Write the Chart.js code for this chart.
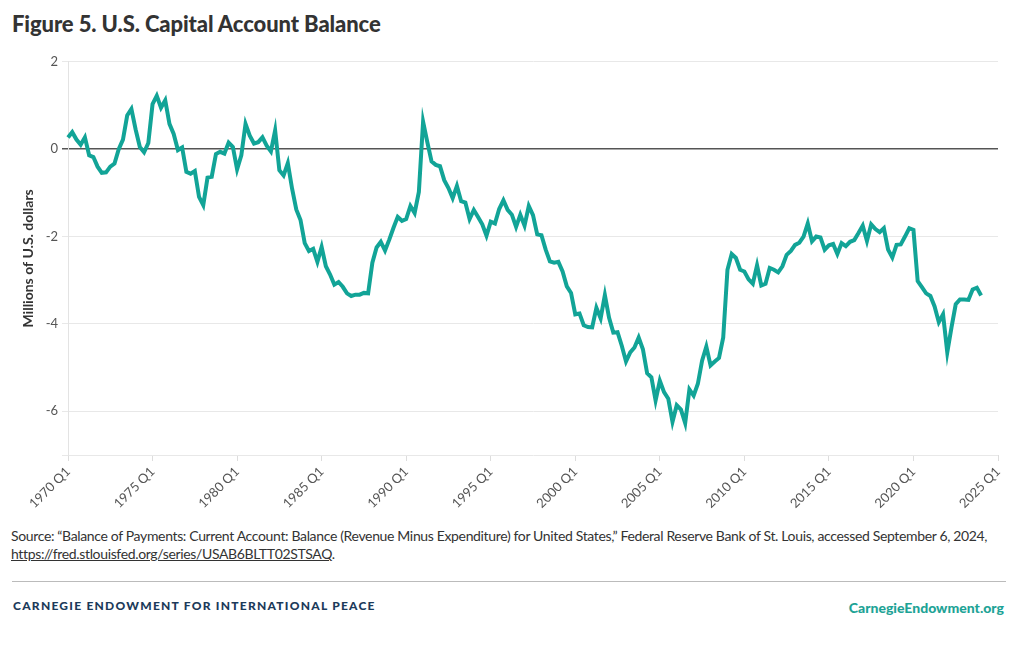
<!DOCTYPE html>
<html>
<head>
<meta charset="utf-8">
<script src="https://cdn.jsdelivr.net/npm/chart.js@4/dist/chart.umd.min.js"></script>
<style>
  body { margin: 0; background: #fff; font-family: 'Lato', sans-serif; color: #333; }
  #page { position: relative; width: 1020px; height: 650px; overflow: hidden; }
  h1 { position: absolute; left: 12px; top: 10px; margin: 0; font-size: 22px; font-weight: 900; color: #333; letter-spacing: -0.1px; }
  #wrap { position: absolute; left: 0; top: 50px; width: 1020px; height: 470px; }
  #source { position: absolute; left: 11px; top: 527px; width: 1005px; font-size: 14px; line-height: 18px; color: #333; letter-spacing: -0.35px; }
  #source a { color: #333; }
  #rule { position: absolute; left: 12px; top: 581px; width: 994px; height: 1px; background: #bbb; }
  #brand { position: absolute; left: 13px; top: 598px; font-size: 12px; font-weight: 900; letter-spacing: 1.25px; color: #1c3a5a; }
  #site { position: absolute; right: 16px; top: 599px; font-size: 14px; font-weight: 900; color: #1ea396; }
</style>
</head>
<body>
<div id="page">
  <h1>Figure 5. U.S. Capital Account Balance</h1>
  <div id="wrap"><canvas id="chart"></canvas></div>
  <div id="source">Source: “Balance of Payments: Current Account: Balance (Revenue Minus Expenditure) for United States,” Federal Reserve Bank of St. Louis, accessed September 6, 2024,<br><a href="#">https://fred.stlouisfed.org/series/USAB6BLTT02STSAQ</a>.</div>
  <div id="rule"></div>
  <div id="brand">CARNEGIE ENDOWMENT FOR INTERNATIONAL PEACE</div>
  <div id="site">CarnegieEndowment.org</div>
</div>
<script>
// quarters 1970 Q1 .. 2025 Q1
const startYear = 1970;
const endYear = 2025;
const quarters = [];
for (let y = startYear; y <= endYear; y++) {
  for (let q = 1; q <= 4; q++) {
    if (y === endYear && q > 1) break;
    quarters.push(y + ' Q' + q);
  }
}

// balance, 1970 Q1 .. 2024 Q1
const balance = [
  0.27, 0.39, 0.22, 0.10, 0.27, -0.14, -0.18, -0.40, -0.54, -0.53,
  -0.40, -0.33, 0.00, 0.22, 0.77, 0.92, 0.45, 0.05, -0.07, 0.14,
  1.03, 1.22, 0.95, 1.12, 0.58, 0.35, -0.02, 0.04, -0.52, -0.56,
  -0.50, -1.09, -1.28, -0.65, -0.63, -0.11, -0.06, -0.10, 0.15, 0.05,
  -0.46, -0.14, 0.58, 0.31, 0.13, 0.16, 0.27, 0.08, -0.05, 0.43,
  -0.48, -0.60, -0.32, -0.90, -1.38, -1.62, -2.15, -2.33, -2.28, -2.58,
  -2.24, -2.68, -2.87, -3.10, -3.04, -3.15, -3.30, -3.36, -3.33, -3.33,
  -3.29, -3.30, -2.60, -2.25, -2.12, -2.32, -2.07, -1.80, -1.55, -1.64,
  -1.60, -1.30, -1.46, -0.98, 0.63, 0.16, -0.28, -0.36, -0.39, -0.71,
  -0.89, -1.12, -0.84, -1.19, -1.22, -1.60, -1.39, -1.55, -1.72, -1.98,
  -1.66, -1.70, -1.37, -1.17, -1.39, -1.50, -1.78, -1.50, -1.75, -1.30,
  -1.51, -1.95, -1.97, -2.30, -2.57, -2.60, -2.58, -2.80, -3.14, -3.29,
  -3.78, -3.76, -4.03, -4.07, -4.08, -3.63, -3.87, -3.34, -3.86, -4.20,
  -4.19, -4.50, -4.86, -4.65, -4.54, -4.31, -4.58, -5.13, -5.22, -5.75,
  -5.30, -5.56, -5.71, -6.24, -5.86, -5.96, -6.27, -5.50, -5.64, -5.37,
  -4.84, -4.52, -4.95, -4.86, -4.78, -4.31, -2.76, -2.40, -2.49, -2.76,
  -2.80, -2.98, -3.08, -2.66, -3.12, -3.08, -2.72, -2.76, -2.82, -2.68,
  -2.42, -2.33, -2.19, -2.14, -2.00, -1.70, -2.11, -2.00, -2.02, -2.30,
  -2.20, -2.17, -2.40, -2.15, -2.22, -2.12, -2.08, -1.92, -1.75, -2.10,
  -1.72, -1.83, -1.90, -1.81, -2.30, -2.48, -2.19, -2.18, -2.00, -1.81,
  -1.85, -3.02, -3.16, -3.30, -3.36, -3.60, -3.96, -3.78, -4.65, -4.08,
  -3.55, -3.44, -3.44, -3.45, -3.21, -3.17, -3.35
];

const yTicks = [2, 0, -2, -4, -6];

new Chart(document.getElementById('chart'), {
  type: 'line',
  data: {
    labels: quarters,
    datasets: [{
      data: balance,
      borderColor: '#12a497',
      borderWidth: 4,
      pointRadius: 0,
      tension: 0,
      fill: false
    }]
  },
  options: {
    responsive: true,
    maintainAspectRatio: false,
    animation: false,
    layout: { padding: { top: 7, right: 22, left: 20, bottom: 0 } },
    plugins: { legend: { display: false }, tooltip: { enabled: false } },
    scales: {
      x: {
        afterFit: function (s) { s.height = 65; },
        border: { display: false },
        grid: {
          drawOnChartArea: false,
          drawTicks: true,
          tickLength: 6,
          color: function (c) { return c.index % 20 === 0 ? '#ddd' : 'rgba(0,0,0,0)'; }
        },
        ticks: {
          autoSkip: false,
          minRotation: 45,
          maxRotation: 45,
          padding: 3,
          color: '#555',
          font: { family: 'Lato', size: 13 },
          callback: function (v, i) { return i % 20 === 0 ? quarters[i] : ''; }
        }
      },
      y: {
        min: -7,
        max: 2,
        afterFit: function (s) { s.width = 48; },
        afterBuildTicks: function (s) {
          s.ticks = [-7].concat(yTicks.slice().reverse()).map(function (v) { return { value: v }; });
        },
        border: { display: true, color: '#e3e3e3' },
        grid: {
          tickLength: 6,
          color: function (c) { return c.tick && c.tick.value === 0 ? '#555' : '#e8e8e8'; },
          lineWidth: function (c) { return c.tick && c.tick.value === 0 ? 1.5 : 1; }
        },
        ticks: {
          color: '#555',
          padding: 4,
          font: { family: 'Lato', size: 13 },
          callback: function (v) { return yTicks.indexOf(v) >= 0 ? v : ''; }
        },
        title: {
          display: true,
          text: 'Millions of U.S. dollars',
          color: '#333',
          font: { family: 'Lato', size: 14, weight: 'bold' },
          padding: { top: 0, bottom: 4 }
        }
      }
    }
  }
});
</script>
</body>
</html>
